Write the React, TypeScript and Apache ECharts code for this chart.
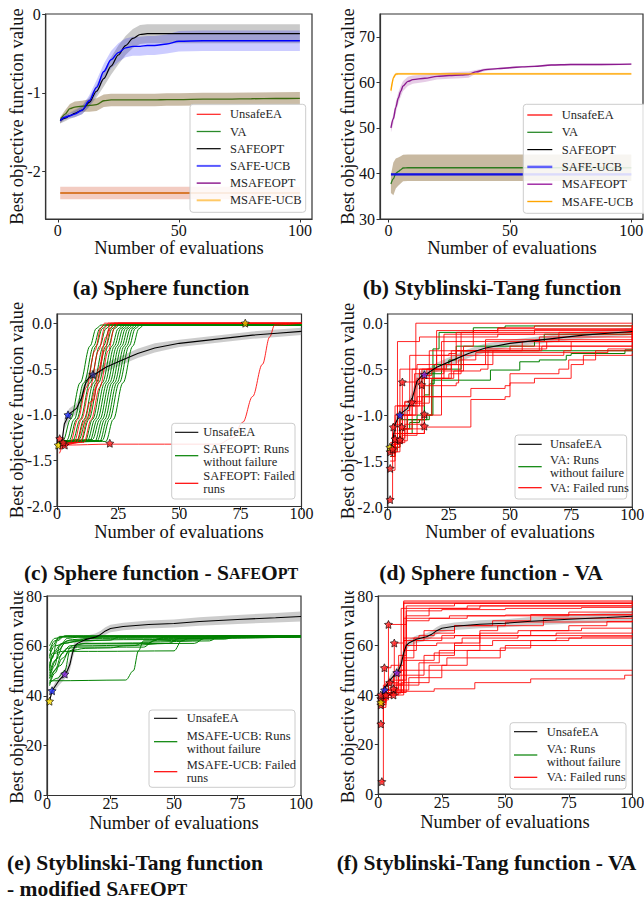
import React, { useEffect, useRef } from 'react';
import * as echarts from 'echarts';

const FONT = '"Liberation Serif", "Times New Roman", serif';

// ---------- (a) Sphere function ----------
const aX = [1, 3, 5, 7, 10, 13, 16, 19, 22, 25, 28, 31, 34, 37, 40, 45, 50, 60, 70, 80, 90, 100];
const aSafeOptMean = [-1.35, -1.32, -1.29, -1.26, -1.22, -1.12, -0.98, -0.82, -0.66, -0.52, -0.4, -0.31, -0.26, -0.25, -0.25, -0.25, -0.25, -0.25, -0.25, -0.25, -0.25, -0.25];
const aSafeOptSd = [0.04, 0.04, 0.04, 0.05, 0.05, 0.06, 0.08, 0.1, 0.11, 0.12, 0.12, 0.12, 0.12, 0.12, 0.12, 0.12, 0.12, 0.12, 0.12, 0.12, 0.12, 0.12];
const aSafeUcbMean = [-1.35, -1.31, -1.29, -1.27, -1.22, -1.1, -0.93, -0.73, -0.58, -0.49, -0.43, -0.41, -0.41, -0.4, -0.4, -0.38, -0.345, -0.34, -0.34, -0.34, -0.34, -0.34];
const aSafeUcbSd = [0.03, 0.03, 0.03, 0.04, 0.05, 0.07, 0.09, 0.1, 0.11, 0.12, 0.12, 0.12, 0.12, 0.12, 0.12, 0.12, 0.13, 0.13, 0.13, 0.13, 0.13, 0.13];
const aVaMean = [-1.35, -1.27, -1.2, -1.18, -1.17, -1.16, -1.15, -1.1, -1.09, -1.09, -1.09, -1.09, -1.09, -1.09, -1.09, -1.085, -1.085, -1.08, -1.08, -1.075, -1.072, -1.07];
const aVaSd = [0.04, 0.05, 0.06, 0.07, 0.07, 0.08, 0.08, 0.08, 0.08, 0.08, 0.08, 0.08, 0.08, 0.08, 0.08, 0.08, 0.08, 0.08, 0.08, 0.08, 0.08, 0.08];
const aFlatX = [1, 100];
const aMsafeMean = [-2.27, -2.27];
const aMsafeSd = [0.08, 0.08];

// ---------- (b) Styblinski-Tang function ----------
const bX = [1, 2, 3, 4, 5, 6, 8, 10, 15, 20, 25, 30, 33, 36, 40, 45, 50, 55, 60, 67, 75, 85, 100];
const bMsafeOptMean = [50, 52, 54.5, 56.5, 58, 59.2, 60.2, 60.6, 60.9, 61.3, 61.5, 61.6, 61.7, 62.3, 62.8, 63.0, 63.2, 63.4, 63.5, 63.8, 63.9, 63.9, 64];
const bMsafeOptSd = [1, 1, 1.2, 1.2, 1.2, 1.1, 1, 0.9, 0.8, 0.7, 0.7, 0.7, 0.7, 0.4, 0.3, 0.2, 0.2, 0.2, 0.2, 0.2, 0.2, 0.2, 0.2];
const bMsafeUcbMean = [58.2, 61.0, 61.8, 61.85, 61.85, 61.85, 61.85, 61.85, 61.85, 61.85, 61.85, 61.85, 61.85, 61.85, 61.85, 61.85, 61.85, 61.85, 61.85, 61.85, 61.85, 61.85, 61.85];
const bMsafeUcbSd = [0.8, 0.5, 0.3, 0.25, 0.25, 0.25, 0.25, 0.25, 0.25, 0.25, 0.25, 0.25, 0.25, 0.25, 0.25, 0.25, 0.25, 0.25, 0.25, 0.25, 0.25, 0.25, 0.25];
const bVaMean = [37.7, 38.8, 40.0, 40.4, 40.8, 41.2, 41.25, 41.25, 41.25, 41.25, 41.25, 41.25, 41.25, 41.25, 41.25, 41.25, 41.25, 41.25, 41.25, 41.25, 41.25, 41.25, 41.25];
const bVaSd = [2.0, 3.6, 3.3, 3.1, 3.0, 2.9, 2.9, 2.9, 2.9, 2.9, 2.9, 2.9, 2.9, 2.9, 2.9, 2.9, 2.9, 2.9, 2.9, 2.9, 2.9, 2.9, 2.9];
const bFlatX = [1, 100];
const bSafeUcbMean = [39.8, 39.8];
const bSafeUcbSd = [0.25, 0.25];

// ---------- UnsafeEA on Sphere (c, d) ----------
const sphX = [1, 2, 3, 5, 8, 10, 12, 14, 16, 20, 26, 33, 40, 50, 60, 70, 80, 90, 100];
const sphUnsafeMean = [-1.35, -1.3, -1.1, -0.99, -0.93, -0.82, -0.63, -0.57, -0.55, -0.48, -0.41, -0.33, -0.27, -0.22, -0.19, -0.16, -0.13, -0.11, -0.09];
const sphUnsafeSd = [0.03, 0.04, 0.06, 0.06, 0.06, 0.07, 0.07, 0.06, 0.05, 0.05, 0.05, 0.05, 0.05, 0.04, 0.04, 0.04, 0.04, 0.04, 0.04];

// ---------- (c) SafeOpt runs ----------
const cGreenRuns = [
  [[1, -1.3], [2.5, -1.28], [5.5, -1.05], [9.5, -0.65], [13.5, -0.25], [16, -0.06], [18, -0.02], [100, -0.02]],
  [[1, -1.31], [4, -1.28], [7, -1.05], [11, -0.65], [15, -0.25], [17.5, -0.06], [19.5, -0.02], [100, -0.02]],
  [[1, -1.29], [5, -1.28], [8, -1.05], [12, -0.65], [16, -0.25], [18.5, -0.06], [20.5, -0.02], [100, -0.02]],
  [[1, -1.3], [6.5, -1.28], [9.5, -1.05], [13.5, -0.65], [17.5, -0.25], [20, -0.06], [22, -0.02], [100, -0.02]],
  [[1, -1.32], [8, -1.29], [11, -1.05], [15, -0.65], [19, -0.25], [21.5, -0.06], [23.5, -0.02], [100, -0.02]],
  [[1, -1.3], [9, -1.27], [12, -1.05], [16, -0.65], [20, -0.25], [22.5, -0.06], [24.5, -0.02], [100, -0.02]],
  [[1, -1.29], [10, -1.28], [13, -1.05], [17, -0.65], [21, -0.25], [23.5, -0.06], [25.5, -0.02], [100, -0.02]],
  [[1, -1.3], [11.5, -1.29], [14.5, -1.05], [18.5, -0.65], [22.5, -0.25], [25, -0.06], [27, -0.02], [100, -0.02]],
  [[1, -1.31], [12.5, -1.28], [15.5, -1.05], [19.5, -0.65], [23.5, -0.25], [26, -0.06], [28, -0.02], [100, -0.02]],
  [[1, -1.3], [13.5, -1.28], [16.5, -1.05], [20.5, -0.65], [24.5, -0.25], [27, -0.06], [29, -0.02], [100, -0.02]],
  [[1, -1.29], [14.5, -1.27], [17.5, -1.05], [21.5, -0.65], [25.5, -0.25], [28, -0.06], [30, -0.02], [100, -0.02]],
  [[1, -1.3], [15.5, -1.29], [18.5, -1.05], [22.5, -0.65], [26.5, -0.25], [29, -0.06], [31, -0.02], [100, -0.02]],
  [[1, -1.31], [16.5, -1.28], [19.5, -1.05], [23.5, -0.65], [27.5, -0.25], [30, -0.06], [32, -0.02], [100, -0.02]],
  [[1, -1.3], [17.5, -1.29], [20.5, -1.05], [24.5, -0.65], [28.5, -0.25], [31, -0.06], [33, -0.02], [100, -0.02]],
  [[1, -1.29], [18.5, -1.28], [21.5, -1.05], [25.5, -0.65], [29.5, -0.25], [32, -0.06], [34, -0.02], [100, -0.02]],
  [[1, -1.3], [20, -1.29], [23, -1.05], [27, -0.65], [31, -0.25], [33.5, -0.06], [35.5, -0.02], [100, -0.02]],
];
const cRedRuns = [
  [[1, -1.35], [5.5, -1.3], [8.5, -1.05], [12, -0.7], [15.5, -0.3], [18, -0.05], [19.5, 0], [100, 0]],
  [[1, -1.38], [7, -1.3], [10, -1.05], [13.5, -0.7], [17, -0.3], [19.5, -0.05], [21, 0], [100, 0]],
  [[1, -1.33], [8, -1.3], [11.5, -1.05], [13.5, -0.86], [15, -0.84], [17, -0.5], [20, -0.15], [22, 0], [100, 0]],
  [[1, -1.36], [9.5, -1.3], [12.5, -1.05], [16, -0.7], [19.5, -0.3], [22, -0.05], [23.5, 0], [100, 0]],
  [[1, -1.34], [11, -1.3], [14, -1.05], [17.5, -0.7], [21, -0.3], [23.5, -0.05], [25, 0], [100, 0]],
  [[1, -1.42], [3, -1.33], [22, -1.32], [66, -1.32], [72, -1.25], [76, -1.08], [80, -0.8], [84, -0.45], [87, -0.15], [89, -0.02], [100, 0]],
];
const cStars = [[0.5, -1.33], [1.1, -1.26], [3.2, -1.33], [2.5, -1.3], [4.5, -1.0], [14.7, -0.56], [21.6, -1.31], [77, 0.0]];
const cStarColors = ['#ffe000', '#ff2020', '#ff2020', '#ff2020', '#2030ff', '#303090', '#ff2020', '#e0c000'];

// ---------- (d) VA runs on Sphere ----------
const dGreenRuns = [
  [[1, -1.4], [3, -1.3], [5, -1.15], [8, -1.05], [17, -1.0], [18.5, -0.28], [21, -0.1], [35, -0.05], [48, -0.03], [100, -0.02]],
  [[1, -1.38], [4, -1.2], [10, -1.05], [16, -1.0], [18, -0.62], [42, -0.51], [54, -0.42], [62, -0.4], [73, -0.35], [75, -0.33], [97, -0.29], [100, -0.28]],
  [[1, -1.35], [5, -1.05], [12, -1.0], [15, -0.78], [17, -0.66], [19, -0.45], [25, -0.4], [28, -0.25], [60, -0.2], [64, -0.12], [100, -0.08]],
  [[1, -1.45], [3, -1.3], [6, -1.15], [9, -1.08], [13, -1.05], [15, -0.55], [22, -0.5], [30, -0.3], [100, -0.3]],
];
const dRedRuns = [
  [[1, -1.35], [3, -1.2], [5, -1.0], [11.5, 0.0], [100, 0.0]],
  [[1, -1.4], [2, -1.25], [4, -0.2], [13, -0.15], [45, -0.12], [100, -0.1]],
  [[1, -1.5], [3, -1.3], [7, -0.85], [14, -0.8], [22, -0.55], [23, -0.12], [60, -0.07], [100, -0.04]],
  [[1, -1.92], [2, -1.6], [3, -1.3], [6, -0.64], [14, -0.6], [26, -0.3], [40, -0.2], [70, -0.1], [100, -0.06]],
  [[1, -1.58], [2, -1.3], [5, -1.15], [10, -0.87], [12, -0.6], [25, -0.55], [30, -0.45], [43, -0.3], [63, -0.25], [100, -0.23]],
  [[1, -1.4], [4, -1.28], [6, -1.15], [14, -0.68], [28, -0.65], [29, -0.4], [36, -0.32], [90, -0.28], [100, -0.25]],
  [[1, -1.38], [2, -1.32], [5, -1.0], [9, -0.9], [13, -0.5], [24, -0.45], [30, -0.1], [45, -0.06], [100, -0.03]],
  [[1, -1.35], [3, -1.1], [6, -0.9], [15, -0.57], [18, -0.52], [38, -0.5], [41, -0.3], [62, -0.2], [100, -0.15]],
  [[1, -1.45], [3, -1.3], [6, -1.2], [15, -1.13], [34, -0.83], [48, -0.8], [50, -0.65], [60, -0.6], [75, -0.45], [80, -0.35], [100, -0.33]],
  [[1, -1.37], [4, -1.25], [7, -1.1], [15, -1.0], [22, -0.8], [34, -0.71], [48, -0.68], [50, -0.55], [70, -0.5], [74, -0.4], [85, -0.3], [100, -0.29]],
  [[1, -1.33], [2, -1.2], [3, -0.9], [10, -0.85], [11, -0.55], [16, -0.5], [22, -0.2], [40, -0.18], [100, -0.12]],
  [[1, -1.42], [3, -1.28], [5, -1.2], [8, -1.0], [10, -0.87], [17, -0.3], [31, -0.25], [35, -0.08], [100, -0.05]],
  [[1, -1.36], [2, -1.3], [4, -0.9], [7, -0.86], [10, -0.5], [20, -0.35], [40, -0.28], [55, -0.2], [62, -0.15], [100, -0.08]],
  [[1, -1.4], [5, -1.3], [6, -1.2], [15, -1.0], [18, -0.6], [27, -0.52], [31, -0.3], [50, -0.25], [100, -0.2]],
  [[1, -1.34], [3, -1.27], [4, -1.0], [8, -0.95], [9, -0.35], [25, -0.33], [28, -0.1], [100, -0.02]],
  [[1, -1.3], [2, -1.1], [3, -1.0], [5, -0.5], [12, -0.45], [20, -0.08], [45, -0.05], [60, -0.03], [100, -0.02]],
  [[1, -1.38], [3, -1.3], [6, -1.22], [12, -1.05], [14, -0.5], [26, -0.45], [28, -0.3], [55, -0.28], [65, -0.2], [100, -0.13]],
  [[1, -1.35], [5, -1.28], [8, -1.0], [12, -0.8], [22, -0.6], [23, -0.45], [40, -0.35], [72, -0.3], [75, -0.2], [100, -0.1]],
];
const dStars = [[1, -1.92], [1, -1.58], [1, -1.4], [0.9, -1.35], [2, -1.37], [2.3, -1.13], [3, -1.26], [5, -1.27], [5.7, -1.13], [6, -0.64], [5, -1.0], [9.8, -0.86], [13.9, -0.67], [15, -0.56], [15, -0.99], [15, -1.12]];
const dStarColors = ['#ff2020', '#ff2020', '#ff2020', '#ffe000', '#ff2020', '#ff2020', '#ff2020', '#ff2020', '#ff2020', '#ff2020', '#2030ff', '#ff2020', '#ff2020', '#8a2be2', '#ff2020', '#ff2020'];

// ---------- UnsafeEA on Styblinski-Tang (e, f) ----------
const stX = [1, 2, 3, 5, 7, 8, 9, 10, 11, 12, 15, 19, 21, 23, 25, 30, 40, 50, 60, 75, 90, 100];
const stUnsafeMean = [37.8, 42, 43.5, 46.5, 48.7, 50, 52.5, 57, 60, 61, 62.5, 63.5, 64.5, 66, 67, 67.8, 68.6, 69, 69.8, 70.6, 71.3, 71.8];
const stUnsafeSd = [0.5, 1, 1.5, 2, 2, 2, 2.5, 2.5, 2, 1.5, 1.5, 1.5, 1.5, 1.5, 1.5, 1.5, 1.6, 1.6, 1.7, 1.8, 1.9, 2.0];

// ---------- (e) MSAFE-UCB runs ----------
const eGreenRuns = [
  [[1, 47], [3, 52], [5, 60], [8, 63], [12, 63.5], [100, 63.8]],
  [[1, 50], [2, 55], [4, 62], [7, 64], [100, 64]],
  [[1, 45], [3, 50], [6, 57], [9, 60], [15, 61], [40, 61.2], [44, 63], [100, 63.5]],
  [[1, 46], [2, 46], [31, 46.3], [34, 50], [36, 58], [38, 62], [60, 62.3], [63, 63.8], [100, 64]],
  [[1, 52], [3, 57], [6, 57.8], [20, 57.8], [50, 58], [53, 62], [56, 63], [100, 63.5]],
  [[1, 55], [2, 60], [5, 63.8], [100, 64]],
  [[1, 48], [4, 55], [8, 59], [12, 59.5], [38, 59.5], [42, 62], [46, 63.5], [100, 64]],
  [[1, 58], [3, 62], [6, 63.5], [100, 63.8]],
  [[1, 44], [3, 49], [6, 55], [10, 60], [14, 60.8], [58, 61], [62, 63], [66, 64], [100, 64]],
  [[1, 53], [4, 58], [8, 62], [30, 62.5], [70, 62.7], [75, 64], [100, 64]],
  [[1, 60], [3, 63], [8, 64], [100, 64]],
  [[1, 49], [3, 54], [7, 61], [12, 62], [25, 62.3], [28, 63.5], [100, 63.8]],
  [[1, 47], [5, 52], [9, 58], [15, 59], [25, 59.2], [30, 60], [48, 61], [52, 63], [100, 64]],
  [[1, 56], [3, 60], [10, 62.5], [18, 63], [22, 64], [100, 64]],
  [[1, 51], [2, 57], [6, 61], [10, 61.5], [16, 63], [100, 63.5]],
  [[1, 45], [4, 47], [7, 50], [9, 58], [12, 60], [35, 60.3], [38, 61.5], [64, 62], [68, 64], [100, 64]],
];
const eStars = [[1, 37.8], [2, 42], [7, 48.7]];
const eStarColors = ['#ffe000', '#2030ff', '#8a2be2'];

// ---------- (f) VA runs on Styblinski-Tang ----------
const fRedRuns = [
  [[1, 5], [2, 38], [3, 40], [10, 78], [100, 78]],
  [[1, 28.3], [2, 40], [4, 41], [10, 77.5], [100, 77.5]],
  [[1, 36], [2, 42], [4, 68.5], [11, 76], [30, 77], [100, 77.2]],
  [[1, 38], [2.4, 51], [5, 52], [10, 63], [16, 64], [22, 65], [30, 68], [45, 70], [60, 72], [75, 73.5], [100, 74]],
  [[1, 40], [3, 40.5], [6.3, 61], [10, 62], [11, 72], [20, 75], [35, 76], [100, 76]],
  [[1, 37], [3, 40], [6, 41.5], [22, 42.5], [38, 45], [60, 46.5], [97, 48], [100, 48]],
  [[1, 39], [3, 41], [7.3, 49], [9, 50], [100, 50]],
  [[1, 35], [2, 39], [5, 40.8], [9, 45], [20, 52], [27, 55], [35, 58], [50, 60], [100, 60]],
  [[1, 38], [3, 41], [6, 44], [10, 48], [18, 56], [30, 60], [45, 62], [70, 63], [80, 63.5], [100, 64]],
  [[1, 37], [2, 40], [5, 42], [10, 58], [15, 62], [25, 64], [40, 65], [55, 66], [80, 67], [100, 67.2]],
  [[1, 39], [4, 42], [8, 46], [11, 70], [20, 71], [35, 72], [60, 72.5], [100, 73]],
  [[1, 36], [2, 41], [7, 44], [10, 62], [18, 66], [30, 68], [50, 69.5], [100, 70]],
  [[1, 40], [3, 45], [6, 48], [10, 54], [22, 57], [30, 61], [40, 64], [60, 66], [75, 68], [90, 69.7], [100, 70]],
  [[1, 38], [4, 42], [9, 75], [40, 76], [100, 77]],
  [[1, 37], [3, 40], [7, 41], [11, 74], [25, 74.5], [50, 75], [80, 75.4], [100, 75.5]],
  [[1, 39], [2, 44], [4.5, 45], [8, 56], [11, 60], [23, 61], [33, 63], [55, 64], [70, 65], [100, 66.4]],
  [[1, 36], [3, 41], [9, 42], [12, 47], [25, 52], [35, 55], [48, 59], [60, 62], [75, 63], [100, 63.2]],
  [[1, 38], [2, 42], [5, 44.5], [10, 71], [28, 72], [50, 72.3], [100, 72.5]],
  [[1, 35], [3, 40], [8, 41], [10, 44], [16, 53], [24, 58], [40, 66], [47, 68], [65, 71], [100, 71.5]],
  [[1, 40], [4, 46], [10, 77], [100, 78]],
  [[1, 38], [2, 40], [6, 42.5], [8, 50], [10, 55], [14, 63], [30, 64], [60, 64], [100, 64]],
];
const fStars = [[1.4, 5], [1, 28.3], [1, 36], [1, 38.5], [1, 40], [2.5, 42], [2.4, 51], [4, 68.5], [6.3, 61], [4.5, 45], [6, 42.5], [6, 40], [7.3, 49], [3, 40], [1, 37]];
const fStarColors = ['#ff2020', '#ff2020', '#ff2020', '#ff2020', '#ff2020', '#2030ff', '#ff2020', '#ff2020', '#ff2020', '#ff2020', '#ff2020', '#ff2020', '#8a2be2', '#ff2020', '#ffe000'];

// ---------- ticks ----------
const xTicksA = [0, 50, 100];
const xTicksC = [0, 25, 50, 75, 100];
const yTicksA = [0, -1, -2];
const yTicksB = [30, 40, 50, 60, 70];
const yTicksC = [0, -0.5, -1, -1.5, -2];
const yTicksE = [0, 20, 40, 60, 80];

const STAR = 'path://M0,-10L2.94,-4.05L9.51,-3.09L4.76,1.55L5.88,8.09L0,5L-5.88,8.09L-4.76,1.55L-9.51,-3.09L-2.94,-4.05Z';

const zip = (xs: number[], ys: number[]) => xs.map((x, i) => [x, ys[i]]);

function band(g: number, xs: number[], mean: number[], sd: number[], fill: string, z = 1) {
  return {
    type: 'custom', xAxisIndex: g, yAxisIndex: g, silent: true, z, clip: true,
    data: [[xs[0], mean[0]]],
    renderItem: (_p: any, api: any) => {
      const up = xs.map((x, i) => api.coord([x, mean[i] + sd[i]]));
      const lo = xs.map((x, i) => api.coord([x, mean[i] - sd[i]])).reverse();
      return { type: 'polygon', shape: { points: up.concat(lo) }, style: { fill } };
    },
  };
}

function line(g: number, data: number[][], color: string, width = 1, extra: any = {}) {
  return {
    type: 'line', xAxisIndex: g, yAxisIndex: g, data, symbol: 'none', showSymbol: false, silent: true,
    lineStyle: { color, width, opacity: extra.opacity ?? 1 }, itemStyle: { color }, z: extra.z ?? 3,
    smooth: extra.smooth ?? false, smoothMonotone: extra.smooth ? 'x' : undefined, step: extra.step ?? false,
  };
}

function stars(g: number, pts: number[][], colors: string[]) {
  return {
    type: 'scatter', xAxisIndex: g, yAxisIndex: g, symbol: STAR, symbolSize: 8, silent: true, z: 10,
    data: pts.map((p, i) => ({ value: p, itemStyle: { color: colors[i], borderColor: '#000', borderWidth: 0.8 } })),
  };
}

const grids = [
  { left: 45.7, top: 14, width: 266.3, height: 205 },
  { left: 380, top: 14, width: 263, height: 205 },
  { left: 57, top: 314, width: 244.5, height: 192.5 },
  { left: 387.7, top: 314, width: 244.6, height: 193 },
  { left: 47, top: 596, width: 254, height: 199.5 },
  { left: 378.3, top: 596, width: 254, height: 198 },
];

function xAxis(g: number, min: number, max: number, ticks: number[], margin: number) {
  return {
    type: 'value', gridIndex: g, min, max,
    axisLine: { show: true, onZero: false, lineStyle: { color: '#333', width: 1.2 } },
    axisTick: { show: true, length: 3.5, customValues: ticks, lineStyle: { color: '#333' } },
    axisLabel: { customValues: ticks, fontFamily: FONT, fontSize: 16, color: '#111', margin },
    splitLine: { show: false },
  };
}
function yAxis(g: number, min: number, max: number, ticks: number[], fmt: (v: number) => string) {
  return {
    type: 'value', gridIndex: g, min, max,
    axisLine: { show: true, onZero: false, lineStyle: { color: '#333', width: 1.2 } },
    axisTick: { show: true, length: 3.5, customValues: ticks, lineStyle: { color: '#333' } },
    axisLabel: { customValues: ticks, fontFamily: FONT, fontSize: 16, color: '#111', margin: 5, formatter: fmt },
    splitLine: { show: false },
  };
}

type Row = { y: number; ty?: number; c: string; w: number; o?: number; t: string };
function legendEls(bx: number, by: number, bw: number, bh: number, hx1: number, hx2: number, tx: number, rows: Row[]) {
  const els: any[] = [{
    type: 'rect', shape: { x: bx, y: by, width: bw, height: bh, r: 3 },
    style: { fill: 'rgba(255,255,255,0.85)', stroke: '#cccccc', lineWidth: 1 }, z: 100,
  }];
  rows.forEach((r) => {
    els.push({ type: 'line', shape: { x1: hx1, y1: r.y, x2: hx2, y2: r.y }, style: { stroke: r.c, lineWidth: r.w, opacity: r.o ?? 1 }, z: 101 });
    els.push({
      type: 'text', x: tx, y: r.ty ?? r.y, z: 101,
      style: { text: r.t, fontFamily: FONT, fontSize: 12.5, fill: '#262626', align: 'left', verticalAlign: 'middle', lineHeight: 13 },
    });
  });
  return els;
}

function text(x: number, y: number, t: string, size: number, rot = 0) {
  return {
    type: 'text', x, y, rotation: rot, z: 90,
    style: { text: t, fontFamily: FONT, fontSize: size, fill: '#111', align: 'center', verticalAlign: 'middle' },
  };
}

function caption(x: number, y: number, t: string, align = 'center') {
  return {
    type: 'text', x, y, z: 90,
    style: {
      text: t, align, verticalAlign: 'middle',
      rich: {
        b: { fontFamily: FONT, fontSize: 21.5, fontWeight: 'bold', fill: '#111' },
        s: { fontFamily: FONT, fontSize: 16, fontWeight: 'bold', fill: '#111' },
      },
    },
  };
}

function buildOption() {
  const series: any[] = [];
  // (a)
  series.push(band(0, aFlatX, aMsafeMean, aMsafeSd, 'rgba(220,110,80,0.35)'));
  series.push(band(0, aX, aVaMean, aVaSd, 'rgba(115,80,20,0.38)'));
  series.push(band(0, aX, aSafeOptMean, aSafeOptSd, 'rgba(128,128,128,0.42)'));
  series.push(band(0, aX, aSafeUcbMean, aSafeUcbSd, 'rgba(0,0,255,0.2)'));
  series.push(line(0, zip(aFlatX, aMsafeMean), '#d97a30', 2));
  series.push(line(0, zip(aX, aVaMean), '#3d6b10', 1.3, { smooth: 0.3 }));
  series.push(line(0, zip(aX, aSafeOptMean), '#000000', 1.2, { smooth: 0.3 }));
  series.push(line(0, zip(aX, aSafeUcbMean), '#0000ff', 1.4, { smooth: 0.3 }));
  // (b)
  series.push(band(1, bX, bVaMean, bVaSd, 'rgba(125,88,30,0.42)'));
  series.push(band(1, bFlatX, bSafeUcbMean, bSafeUcbSd, 'rgba(0,0,255,0.2)'));
  series.push(band(1, bX, bMsafeOptMean, bMsafeOptSd, 'rgba(128,0,128,0.2)'));
  series.push(band(1, bX, bMsafeUcbMean, bMsafeUcbSd, 'rgba(255,165,0,0.25)'));
  series.push(line(1, zip(bX, bVaMean), '#2d7a1e', 1.3, { smooth: 0.3 }));
  series.push(line(1, zip(bFlatX, bSafeUcbMean), '#1010e0', 2.2));
  series.push(line(1, zip(bX, bMsafeOptMean), '#8b1a8f', 1.4, { smooth: 0.3 }));
  series.push(line(1, zip(bX, bMsafeUcbMean), '#ffa500', 1.4, { smooth: 0.2 }));
  // (c)
  series.push(band(2, sphX, sphUnsafeMean, sphUnsafeSd, 'rgba(128,128,128,0.4)'));
  cGreenRuns.forEach((r) => series.push(line(2, r, '#008000', 1, { smooth: 0.35 })));
  cRedRuns.forEach((r) => series.push(line(2, r, '#ff0000', 1, { smooth: 0.35, opacity: 0.85 })));
  series.push(line(2, zip(sphX, sphUnsafeMean), '#000000', 1.1, { z: 5 }));
  series.push(stars(2, cStars, cStarColors));
  // (d)
  series.push(band(3, sphX, sphUnsafeMean, sphUnsafeSd, 'rgba(128,128,128,0.4)'));
  dGreenRuns.forEach((r) => series.push(line(3, r, '#008000', 1, { step: 'end' })));
  dRedRuns.forEach((r) => series.push(line(3, r, '#ff0000', 1, { step: 'end', opacity: 0.85 })));
  series.push(line(3, zip(sphX, sphUnsafeMean), '#000000', 1.1, { z: 5 }));
  series.push(stars(3, dStars, dStarColors));
  // (e)
  series.push(band(4, stX, stUnsafeMean, stUnsafeSd, 'rgba(128,128,128,0.4)'));
  eGreenRuns.forEach((r) => series.push(line(4, r, '#008000', 1, { smooth: 0.35 })));
  series.push(line(4, zip(stX, stUnsafeMean), '#000000', 1.1, { z: 5 }));
  series.push(stars(4, eStars, eStarColors));
  // (f)
  series.push(band(5, stX, stUnsafeMean, stUnsafeSd, 'rgba(128,128,128,0.4)'));
  fRedRuns.forEach((r) => series.push(line(5, r, '#ff0000', 1, { step: 'end', opacity: 0.85 })));
  series.push(line(5, zip(stX, stUnsafeMean), '#000000', 1.1, { z: 5 }));
  series.push(stars(5, fStars, fStarColors));

  const fmtInt = (v: number) => String(v);
  const fmt1 = (v: number) => v.toFixed(1);

  const graphic: any[] = [
    // axis titles
    text(179, 248, 'Number of evaluations', 18.5),
    text(512, 248, 'Number of evaluations', 18.5),
    text(179, 531.5, 'Number of evaluations', 18.5),
    text(510, 531.5, 'Number of evaluations', 18.5),
    text(174, 822.5, 'Number of evaluations', 18.5),
    text(505, 821.5, 'Number of evaluations', 18.5),
    text(16.7, 116.5, 'Best objective function value', 18.5, Math.PI / 2),
    text(348.3, 116.5, 'Best objective function value', 18.5, Math.PI / 2),
    text(16.7, 410, 'Best objective function value', 18.5, Math.PI / 2),
    text(348, 411, 'Best objective function value', 18.5, Math.PI / 2),
    text(16.7, 695.7, 'Best objective function value', 18.5, Math.PI / 2),
    text(348.3, 695, 'Best objective function value', 18.5, Math.PI / 2),
    // legends
    ...legendEls(190, 104.3, 115.7, 108, 196.7, 220.7, 230, [
      { y: 114.3, c: '#ff2020', w: 1.2, t: 'UnsafeEA' },
      { y: 131.5, c: '#2a8a2a', w: 1.3, t: 'VA' },
      { y: 148.7, c: '#000000', w: 1.2, t: 'SAFEOPT' },
      { y: 165.9, c: '#3030ff', w: 2, o: 0.8, t: 'SAFE-UCB' },
      { y: 183.1, c: '#800080', w: 1.3, t: 'MSAFEOPT' },
      { y: 200.3, c: '#ffa500', w: 2, o: 0.6, t: 'MSAFE-UCB' },
    ]),
    ...legendEls(523.3, 104.3, 130, 109, 527.3, 552.3, 561.7, [
      { y: 115, c: '#ff5050', w: 2, o: 0.9, t: 'UnsafeEA' },
      { y: 132.3, c: '#2a8a2a', w: 1.3, t: 'VA' },
      { y: 149.6, c: '#000000', w: 1.2, t: 'SAFEOPT' },
      { y: 166.9, c: '#3030ff', w: 2.5, o: 0.75, t: 'SAFE-UCB' },
      { y: 184.2, c: '#9b1fa0', w: 1.4, t: 'MSAFEOPT' },
      { y: 201.5, c: '#ffa500', w: 1.4, t: 'MSAFE-UCB' },
    ]),
    ...legendEls(171.7, 423.3, 123.3, 75.7, 175, 198.3, 203.3, [
      { y: 432.3, c: '#000000', w: 1.1, t: 'UnsafeEA' },
      { y: 455.7, ty: 455, c: '#008000', w: 1.2, t: 'SAFEOPT: Runs\nwithout failure' },
      { y: 483.3, ty: 482.5, c: '#ff0000', w: 1.2, t: 'SAFEOPT: Failed\nruns' },
    ]),
    ...legendEls(515, 435, 111.7, 64, 518.3, 541.7, 550, [
      { y: 444.3, c: '#000000', w: 1.1, t: 'UnsafeEA' },
      { y: 466.7, ty: 466.2, c: '#008000', w: 1.2, t: 'VA: Runs\nwithout failure' },
      { y: 487.7, c: '#ff0000', w: 1.2, t: 'VA: Failed runs' },
    ]),
    ...legendEls(149, 710, 146, 77.3, 154, 177.3, 186.7, [
      { y: 718.3, c: '#000000', w: 1.1, t: 'UnsafeEA' },
      { y: 741.7, ty: 742, c: '#008000', w: 1.2, t: 'MSAFE-UCB: Runs\nwithout failure' },
      { y: 771.7, ty: 771, c: '#ff0000', w: 1.2, t: 'MSAFE-UCB: Failed\nruns' },
    ]),
    ...legendEls(510, 722.7, 116, 66.3, 514, 537.3, 546.7, [
      { y: 731.7, c: '#000000', w: 1.1, t: 'UnsafeEA' },
      { y: 755, c: '#008000', w: 1.2, t: 'VA: Runs\nwithout failure' },
      { y: 777.3, c: '#ff0000', w: 1.2, t: 'VA: Failed runs' },
    ]),
    // captions
    caption(161, 287.5, '{b|(a) Sphere function}'),
    caption(492, 287.5, '{b|(b) Styblinski-Tang function}'),
    caption(161, 573, '{b|(c) Sphere function - S}{s|AFE}{b|O}{s|PT}'),
    caption(491, 573, '{b|(d) Sphere function - VA}'),
    caption(7, 863.3, '{b|(e) Styblinski-Tang function}', 'left'),
    caption(7, 889.3, '{b|- modified S}{s|AFE}{b|O}{s|PT}', 'left'),
    caption(336.7, 863.3, '{b|(f) Styblinski-Tang function - VA}', 'left'),
    // crop masks (subfigure boundary)
    { type: 'rect', shape: { x: 0, y: 583, width: 45, height: 8 }, style: { fill: '#ffffff' }, z: 200 },
    { type: 'rect', shape: { x: 330, y: 583, width: 46, height: 8 }, style: { fill: '#ffffff' }, z: 200 },
  ];

  return {
    animation: false,
    backgroundColor: '#ffffff',
    grid: grids.map((g) => ({ ...g, show: true, borderColor: '#333', borderWidth: 1.2, containLabel: false, outerBoundsMode: 'none' })),
    xAxis: [
      xAxis(0, -5, 105, xTicksA, 3),
      xAxis(1, -3.5, 104.8, xTicksA, 3),
      xAxis(2, 0, 100, xTicksC, -1),
      xAxis(3, 0, 100, xTicksC, -1),
      xAxis(4, 0, 100, xTicksC, 0),
      xAxis(5, 0, 100, xTicksC, 0),
    ],
    yAxis: [
      yAxis(0, -2.6, 0, yTicksA, fmtInt),
      yAxis(1, 30, 75, yTicksB, fmtInt),
      yAxis(2, -2, 0.1, yTicksC, fmt1),
      yAxis(3, -2, 0.1, yTicksC, fmt1),
      yAxis(4, 0, 80, yTicksE, fmtInt),
      yAxis(5, 0, 80, yTicksE, fmtInt),
    ],
    series,
    graphic,
  };
}

export default function App() {
  const ref = useRef<HTMLDivElement>(null);
  useEffect(() => {
    document.body.style.margin = '0';
    const chart = echarts.init(ref.current!, null, { renderer: 'svg', width: 644, height: 901 });
    chart.setOption(buildOption() as any);
    return () => chart.dispose();
  }, []);
  return <div ref={ref} style={{ width: 644, height: 901, position: 'absolute', left: 0, top: 0, background: '#fff' }} />;
}
